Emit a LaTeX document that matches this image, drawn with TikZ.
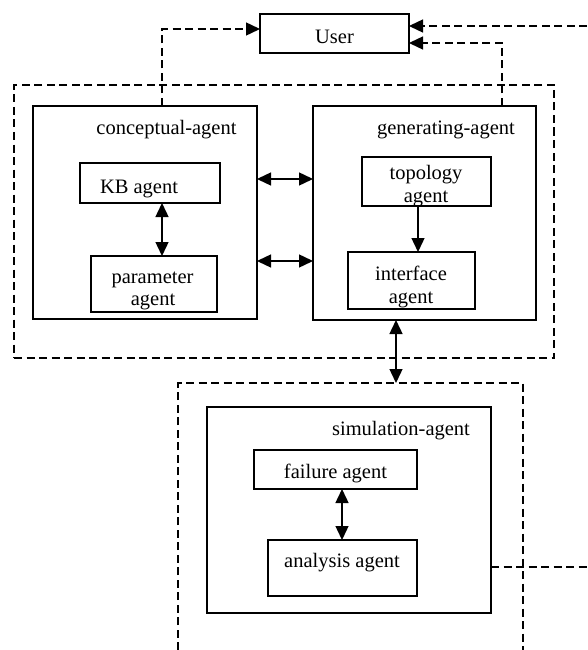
\documentclass[tikz,border=0pt]{standalone}
\usepackage{fontspec}
\setmainfont{Liberation Serif}
\usetikzlibrary{arrows.meta}
\tikzset{
  box/.style={draw, line width=1.4pt, inner sep=0pt, outer sep=0pt},
  dbox/.style={draw, line width=1.4pt, inner sep=0pt, outer sep=0pt, dash pattern=on 8pt off 4.5pt},
  dline/.style={line width=1.4pt, dash pattern=on 8pt off 4.5pt},
  sline/.style={line width=1.4pt},
  lbl/.style={anchor=base, inner sep=0pt, font=\fontsize{20.5}{23}\selectfont},
  tip/.style={-{Triangle[length=14pt,width=13pt]}},
  dtip/.style={{Triangle[length=14pt,width=13pt]}-{Triangle[length=14pt,width=13pt]}}
}
\begin{document}
\begin{tikzpicture}[x=1pt,y=-1pt]
\useasboundingbox (0,0) rectangle (587,650);
% boxes
\node[box, minimum width=149pt, minimum height=39pt] (user) at (334.5,33.5) {};
\node[dbox, minimum width=540pt, minimum height=273pt] (grp1) at (284,221.5) {};
\node[box, minimum width=224pt, minimum height=213pt] (cb) at (145,212.5) {};
\node[box, minimum width=140pt, minimum height=40pt] (kb) at (150,183) {};
\node[box, minimum width=126pt, minimum height=56pt] (pb) at (154,284) {};
\node[box, minimum width=223pt, minimum height=214pt] (gb) at (424.5,213) {};
\node[box, minimum width=129pt, minimum height=49pt] (tb) at (426.5,181.5) {};
\node[box, minimum width=127pt, minimum height=57pt] (ib) at (411.5,280.5) {};
\draw[dline] (178,650) |- (523,383) -- (523,650);
\coordinate (sd) at (396,383);
\node[box, minimum width=284pt, minimum height=206pt] (sb) at (349,510) {};
\node[box, minimum width=163pt, minimum height=39pt] (fb) at (335.5,469.5) {};
\node[box, minimum width=149pt, minimum height=56pt] (ab) at (342.5,568) {};
% labels
\node[lbl] at (334.5,44) {User};
\node[lbl] at (166.5,135) {conceptual-agent};
\node[lbl] at (139,193) {KB agent};
\node[lbl] at (152.5,283) {parameter};
\node[lbl] at (153,305) {agent};
\node[lbl] at (446,135) {generating-agent};
\node[lbl] at (426,179) {topology};
\node[lbl] at (426,202) {agent};
\node[lbl] at (411,280) {interface};
\node[lbl] at (411,303) {agent};
\node[lbl] at (401,435) {simulation-agent};
\node[lbl] at (335.5,478) {failure agent};
\node[lbl] at (342,567) {analysis agent};
% connectors
\coordinate (cx) at (162,0);
\coordinate (gx) at (502,0);
\coordinate (rin) at (587,26);
\coordinate (rout) at (587,567);
\draw[dline, tip] (cb.north -| cx) |- ([yshift=4.5pt]user.west);
\draw[dline, tip] (gb.north -| gx) |- ([yshift=-9.5pt]user.east);
\draw[dline, tip] (rin) -- (rin -| user.east);
\draw[dline] (sb.east |- rout) -- (rout);
\draw[sline, dtip] ([yshift=33.5pt]cb.east) -- ([yshift=34pt]gb.west);
\draw[sline, dtip] ([yshift=-48.5pt]cb.east) -- ([yshift=-48pt]gb.west);
\draw[sline, dtip] (kb.south -| cx) -- (pb.north -| cx);
\coordinate (tx) at (418,0);
\draw[sline, tip] (tb.south -| tx) -- (ib.north -| tx);
\draw[sline, dtip] (gb.south -| sd) -- (sd);
\coordinate (fx) at (342,0);
\draw[sline, dtip] (fb.south -| fx) -- (ab.north -| fx);
\end{tikzpicture}
\end{document}
